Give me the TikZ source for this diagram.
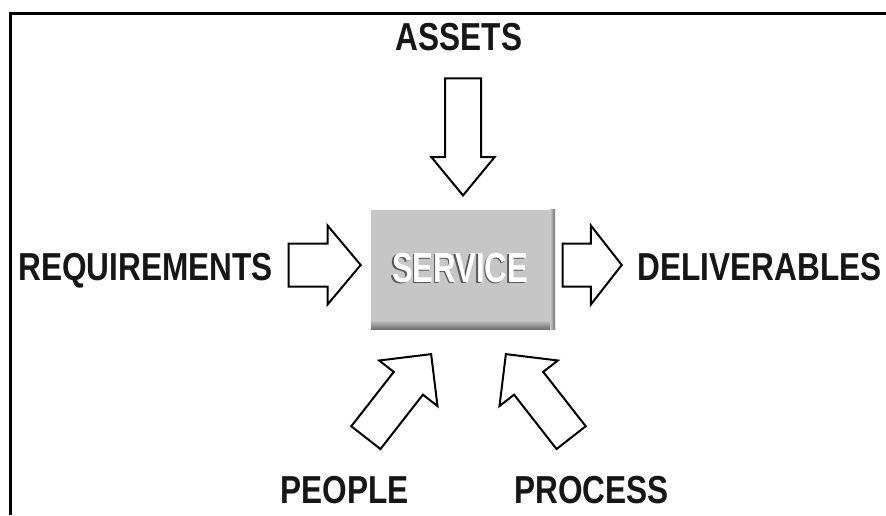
\documentclass[tikz,border=0pt]{standalone}
\usepackage{fontspec}
\newfontfamily\capfont{Liberation Sans Bold}[FakeStretch=0.81]
\newfontfamily\srvfont{Liberation Sans Bold}[FakeStretch=0.74]
\usetikzlibrary{shapes.arrows}
\definecolor{boxgray}{RGB}{198,198,198}
\definecolor{edgegray}{RGB}{110,110,110}
\definecolor{inkgray}{RGB}{22,22,22}

\tikzset{
  captxt/.style={text=inkgray,inner sep=0pt,font=\capfont\fontsize{39}{44}\selectfont},
  srvtxt/.style={inner sep=0pt,font=\srvfont\fontsize{42}{46}\selectfont},
  blockarrow/.style={single arrow,draw=black,fill=white,line width=2pt,line join=miter,
    inner xsep=0pt,single arrow head indent=0pt}
}

\begin{document}
\begin{tikzpicture}[x=1pt,y=-1pt]
   \useasboundingbox (0,0) rectangle (886,515);
   \draw[line width=3pt] (886,13.5) -- (10.5,13.5) -- (10.5,515);

   % centre box
   \node[rectangle,fill=boxgray,minimum width=184pt,minimum height=119pt,inner sep=0pt] (S) at (463,269.5) {};
   \shade[top color=boxgray,bottom color=edgegray] ([yshift=9pt]S.south west) rectangle (S.south east);
   \shade[left color=boxgray,right color=edgegray] ([xshift=-5pt]S.north east) rectangle (S.south east);
   \node[srvtxt,text=gray!70!black] (Ssh) at (458.5,269.5) {SERVICE};
   \node[srvtxt,text=white] (St) at (460,268) {SERVICE};

   % labels
   \node[captxt,anchor=base] (A) at (459,50)    {ASSETS};
   \node[captxt,anchor=base] (R) at (145.5,280) {REQUIREMENTS};
   \node[captxt,anchor=base] (D) at (759.5,280) {DELIVERABLES};
   \node[captxt,anchor=base] (P) at (344.5,503) {PEOPLE};
   \node[captxt,anchor=base] (Q) at (591.5,503) {PROCESS};

   % block arrows
   \node[blockarrow,rotate=-90,anchor=tip,inner ysep=17pt,single arrow head extend=13.5pt,
         single arrow tip angle=79,minimum height=117pt] (arA) at (463,197) {};
   \node[blockarrow,anchor=tip,inner ysep=20.5pt,single arrow head extend=18pt,
         single arrow tip angle=100,minimum height=72pt] (arR) at (362,265) {};
   \node[blockarrow,anchor=tip,inner ysep=20.5pt,single arrow head extend=18pt,
         single arrow tip angle=104,minimum height=59pt] (arD) at (623,265) {};
   \node[blockarrow,rotate=52,anchor=tip,inner ysep=17.5pt,single arrow head extend=18.5pt,
         single arrow tip angle=90,minimum height=106pt] (arP) at (432,353) {};
   \node[blockarrow,rotate=128,anchor=tip,inner ysep=17.5pt,single arrow head extend=18.5pt,
         single arrow tip angle=90,minimum height=106pt] (arQ) at (505,353) {};
\end{tikzpicture}
\end{document}
